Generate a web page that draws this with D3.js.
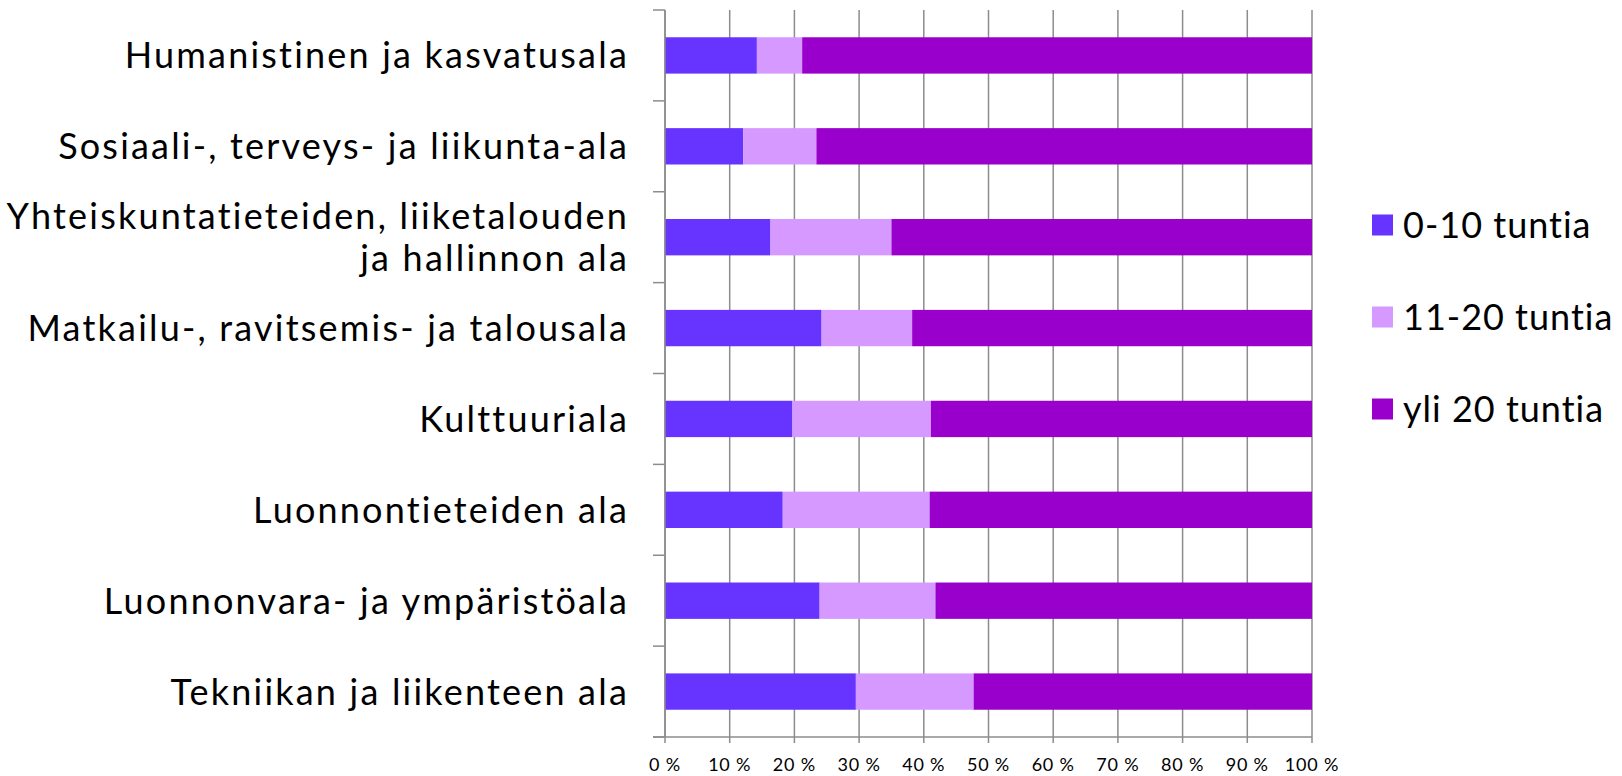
<!DOCTYPE html>
<html>
<head>
<meta charset="utf-8">
<script src="https://cdn.jsdelivr.net/npm/d3@7"></script>
<style>
  body { margin: 0; background: #fff; }
  text { font-family: Lato, "Open Sans", sans-serif; fill: #000; }
</style>
</head>
<body>
<div id="chart"></div>
<script>
var categories = [
  'Humanistinen ja kasvatusala',
  'Sosiaali-, terveys- ja liikunta-ala',
  'Yhteiskuntatieteiden, liiketalouden\nja hallinnon ala',
  'Matkailu-, ravitsemis- ja talousala',
  'Kulttuuriala',
  'Luonnontieteiden ala',
  'Luonnonvara- ja ympäristöala',
  'Tekniikan ja liikenteen ala'
];
var seriesNames = ['0-10 tuntia', '11-20 tuntia', 'yli 20 tuntia'];
var low = [14.2, 12.1, 16.3, 24.2, 19.7, 18.2, 23.9, 29.5];
var mid = [7.0, 11.3, 18.7, 14.0, 21.4, 22.7, 17.9, 18.2];
var high = [78.8, 76.6, 65.0, 61.8, 58.9, 59.1, 58.2, 52.3];
var xTicks = [0, 10, 20, 30, 40, 50, 60, 70, 80, 90, 100];

var width = 1622;
var height = 776;
var colors = ['#6633ff', '#d699ff', '#9900cc'];
var gridColor = '#8c8c8c';

var svg = d3.select('#chart')
    .append('svg')
    .attr('width', width)
    .attr('height', height);

var x = d3.scaleLinear().domain([0, 100]).range([665, 1312]);
var y = d3.scaleBand()
    .domain(categories)
    .range([10, 737])
    .paddingInner(0.6)
    .paddingOuter(0.3);

var rows = categories.map(function(c, i) {
  return { cat: c, a: low[i], b: mid[i], c: high[i] };
});
var stack = d3.stack().keys(['a', 'b', 'c']);
var layers = stack(rows);

// vertical grid lines
svg.append('g')
  .selectAll('line')
  .data(xTicks)
  .enter()
  .append('line')
  .attr('x1', function(d) { return x(d); })
  .attr('x2', function(d) { return x(d); })
  .attr('y1', 10)
  .attr('y2', 743)
  .attr('stroke', gridColor)
  .attr('stroke-width', 1.5);

// bars
svg.append('g')
  .selectAll('g')
  .data(layers)
  .enter()
  .append('g')
  .attr('fill', function(d, i) { return colors[i]; })
  .selectAll('rect')
  .data(function(d) { return d; })
  .enter()
  .append('rect')
  .attr('x', function(d) { return x(d[0]); })
  .attr('width', function(d) { return x(d[1]) - x(d[0]); })
  .attr('y', function(d) { return y(d.data.cat); })
  .attr('height', y.bandwidth());

// y axis line and ticks at band boundaries
var step = y.step();
var bounds = d3.range(categories.length + 1).map(function(i) {
  return y.range()[0] + i * step;
});
svg.append('line')
  .attr('x1', x(0)).attr('x2', x(0))
  .attr('y1', 10).attr('y2', 737)
  .attr('stroke', gridColor).attr('stroke-width', 1.5);
svg.append('g')
  .selectAll('line')
  .data(bounds)
  .enter()
  .append('line')
  .attr('x1', x(0) - 12).attr('x2', x(0))
  .attr('y1', function(d) { return d; })
  .attr('y2', function(d) { return d; })
  .attr('stroke', gridColor).attr('stroke-width', 1.5);

// x axis line
svg.append('line')
  .attr('x1', x(0) - 12).attr('x2', x(100))
  .attr('y1', 737).attr('y2', 737)
  .attr('stroke', gridColor).attr('stroke-width', 1.5);

// x tick labels
svg.append('g')
  .selectAll('text')
  .data(xTicks)
  .enter()
  .append('text')
  .attr('x', function(d) { return x(d); })
  .attr('y', 771)
  .attr('text-anchor', 'middle')
  .style('font-size', '18px')
  .style('letter-spacing', '0.8px')
  .text(function(d) { return d + ' %'; });

// category labels
var labelSize = 36;
var lineGap = 42;
var cats = svg.append('g')
  .selectAll('text')
  .data(categories)
  .enter()
  .append('text')
  .attr('text-anchor', 'end')
  .style('font-size', labelSize + 'px')
  .style('letter-spacing', '2.2px')
  .attr('y', function(d) {
    var lines = d.split('\n').length;
    return y(d) + y.bandwidth() / 2 + 13 - (lines - 1) * lineGap / 2;
  });
cats.each(function(d) {
  var t = d3.select(this);
  var yy = +t.attr('y');
  d.split('\n').forEach(function(line, k) {
    t.append('tspan')
      .attr('x', 629)
      .attr('y', yy + k * lineGap)
      .text(line);
  });
});

// legend
var legend = svg.selectAll('.legend')
  .data(seriesNames)
  .enter()
  .append('g')
  .attr('class', 'legend')
  .attr('transform', function(d, i) {
    return 'translate(1372,' + (225 + i * 92) + ')';
  });
legend.append('rect')
  .attr('x', 0)
  .attr('y', -10.5)
  .attr('width', 21)
  .attr('height', 21)
  .attr('fill', function(d, i) { return colors[i]; });
legend.append('text')
  .attr('x', 31)
  .attr('y', 13)
  .style('font-size', '36px')
  .style('letter-spacing', '1px')
  .text(function(d) { return d; });
</script>
</body>
</html>
